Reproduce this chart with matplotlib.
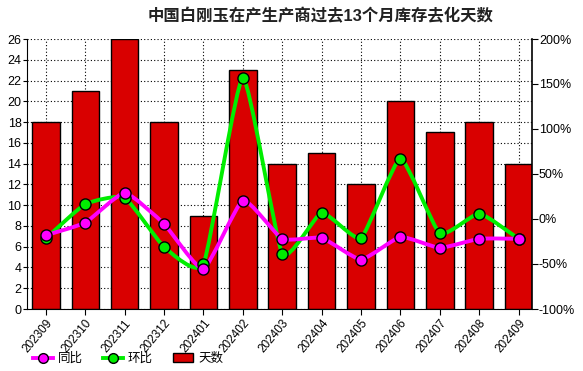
import numpy as np
import matplotlib
matplotlib.use("Agg")
import matplotlib.pyplot as plt
from matplotlib.path import Path
from matplotlib.patches import PathPatch
from matplotlib.lines import Line2D
from matplotlib.patches import Patch

plt.rcParams['font.family'] = ['Liberation Sans', 'Noto Sans CJK SC', 'DejaVu Sans']

months = ['202309', '202310', '202311', '202312', '202401', '202402', '202403',
          '202404', '202405', '202406', '202407', '202408', '202409']
days = [18, 21, 26, 18, 9, 23, 14, 15, 12, 20, 17, 18, 14]
yoy = [-18, -4, 29, -5.5, -55.5, 20.5, -22, -21, -45, -20, -32, -22, -22]     # 同比 %
mom = [-21.5, 16.5, 23.5, -31, -50, 157, -38.5, 7, -21, 67, -16, 6, -22]      # 环比 %


def smooth_path(xs, ys, t=0.08):
    # light cardinal spline through the points, as cubic bezier segments
    xs = np.asarray(xs, float)
    ys = np.asarray(ys, float)
    verts = [(xs[0], ys[0])]
    codes = [Path.MOVETO]
    n = len(xs)
    for i in range(n - 1):
        x0, y0 = (xs[i - 1], ys[i - 1]) if i > 0 else (xs[i], ys[i])
        x3, y3 = (xs[i + 2], ys[i + 2]) if i + 2 < n else (xs[i + 1], ys[i + 1])
        c1 = (xs[i] + (xs[i + 1] - x0) * t, ys[i] + (ys[i + 1] - y0) * t)
        c2 = (xs[i + 1] - (x3 - xs[i]) * t, ys[i + 1] - (y3 - ys[i]) * t)
        verts += [c1, c2, (xs[i + 1], ys[i + 1])]
        codes += [Path.CURVE4] * 3
    return Path(verts, codes)


fig = plt.figure(figsize=(5.83, 3.71), dpi=100)
ax = fig.add_axes([27 / 583, 1 - 309 / 371, (532 - 27) / 583, (309 - 39) / 371])
x = np.arange(len(months))

ax.bar(x, days, width=0.7, color='#D90000', edgecolor='black', linewidth=1, zorder=2)
ax.set_xlim(-0.48, 12.34)
ax.set_ylim(0, 26)
ax.set_yticks(range(0, 27, 2))
ax.set_xticks(x)
ax.set_xticklabels(months, rotation=50, ha='right', rotation_mode='anchor', fontsize=8.5)
ax.grid(True, color='black', linestyle=(0, (1, 2)), linewidth=0.8, zorder=0)
ax.set_axisbelow(True)
ax.spines['top'].set_visible(False)
ax.spines['right'].set_visible(False)
ax.tick_params(axis='y', labelsize=9, length=3, pad=1)
ax.tick_params(axis='x', length=4, pad=2)

ax2 = ax.twinx()
ax2.set_ylim(-100, 200)
ax2.set_yticks(range(-100, 201, 50))
ax2.set_yticklabels([f'{v}%' for v in range(-100, 201, 50)])
ax2.tick_params(axis='y', labelsize=9, length=4, pad=1)
for s in ['top', 'left', 'bottom']:
    ax2.spines[s].set_visible(False)
ax2.spines['right'].set_linewidth(1.2)

for vals, col in [(mom, '#00EE00'), (yoy, '#FF00FF')]:
    ax2.add_patch(PathPatch(smooth_path(x, vals), facecolor='none', edgecolor=col,
                            linewidth=2.8, zorder=3))
    ax2.plot(x, vals, linestyle='none', marker='o', markersize=8, markerfacecolor=col,
             markeredgecolor='black', markeredgewidth=1, zorder=4)

fig.text(321 / 583, 355 / 371, '中国白刚玉在产生产商过去13个月库存去化天数', ha='center', va='center',
         fontsize=11.8, fontweight='bold', color='#222222')

handles = [
    Line2D([], [], color='#FF00FF', linewidth=2.8, marker='o', markersize=7,
           markerfacecolor='#FF00FF', markeredgecolor='black'),
    Line2D([], [], color='#00EE00', linewidth=2.8, marker='o', markersize=7,
           markerfacecolor='#00EE00', markeredgecolor='black'),
    Patch(facecolor='#D90000', edgecolor='black'),
]
fig.legend(handles, ['同比', '环比', '天数'], loc='center left', bbox_to_anchor=(33 / 583, 1 - 359 / 371),
           ncol=3, frameon=False, fontsize=9, handlelength=1.6, handleheight=0.7,
           columnspacing=1.6, handletextpad=0.4, borderpad=0, borderaxespad=0)

fig.savefig('out.png', dpi=100)
